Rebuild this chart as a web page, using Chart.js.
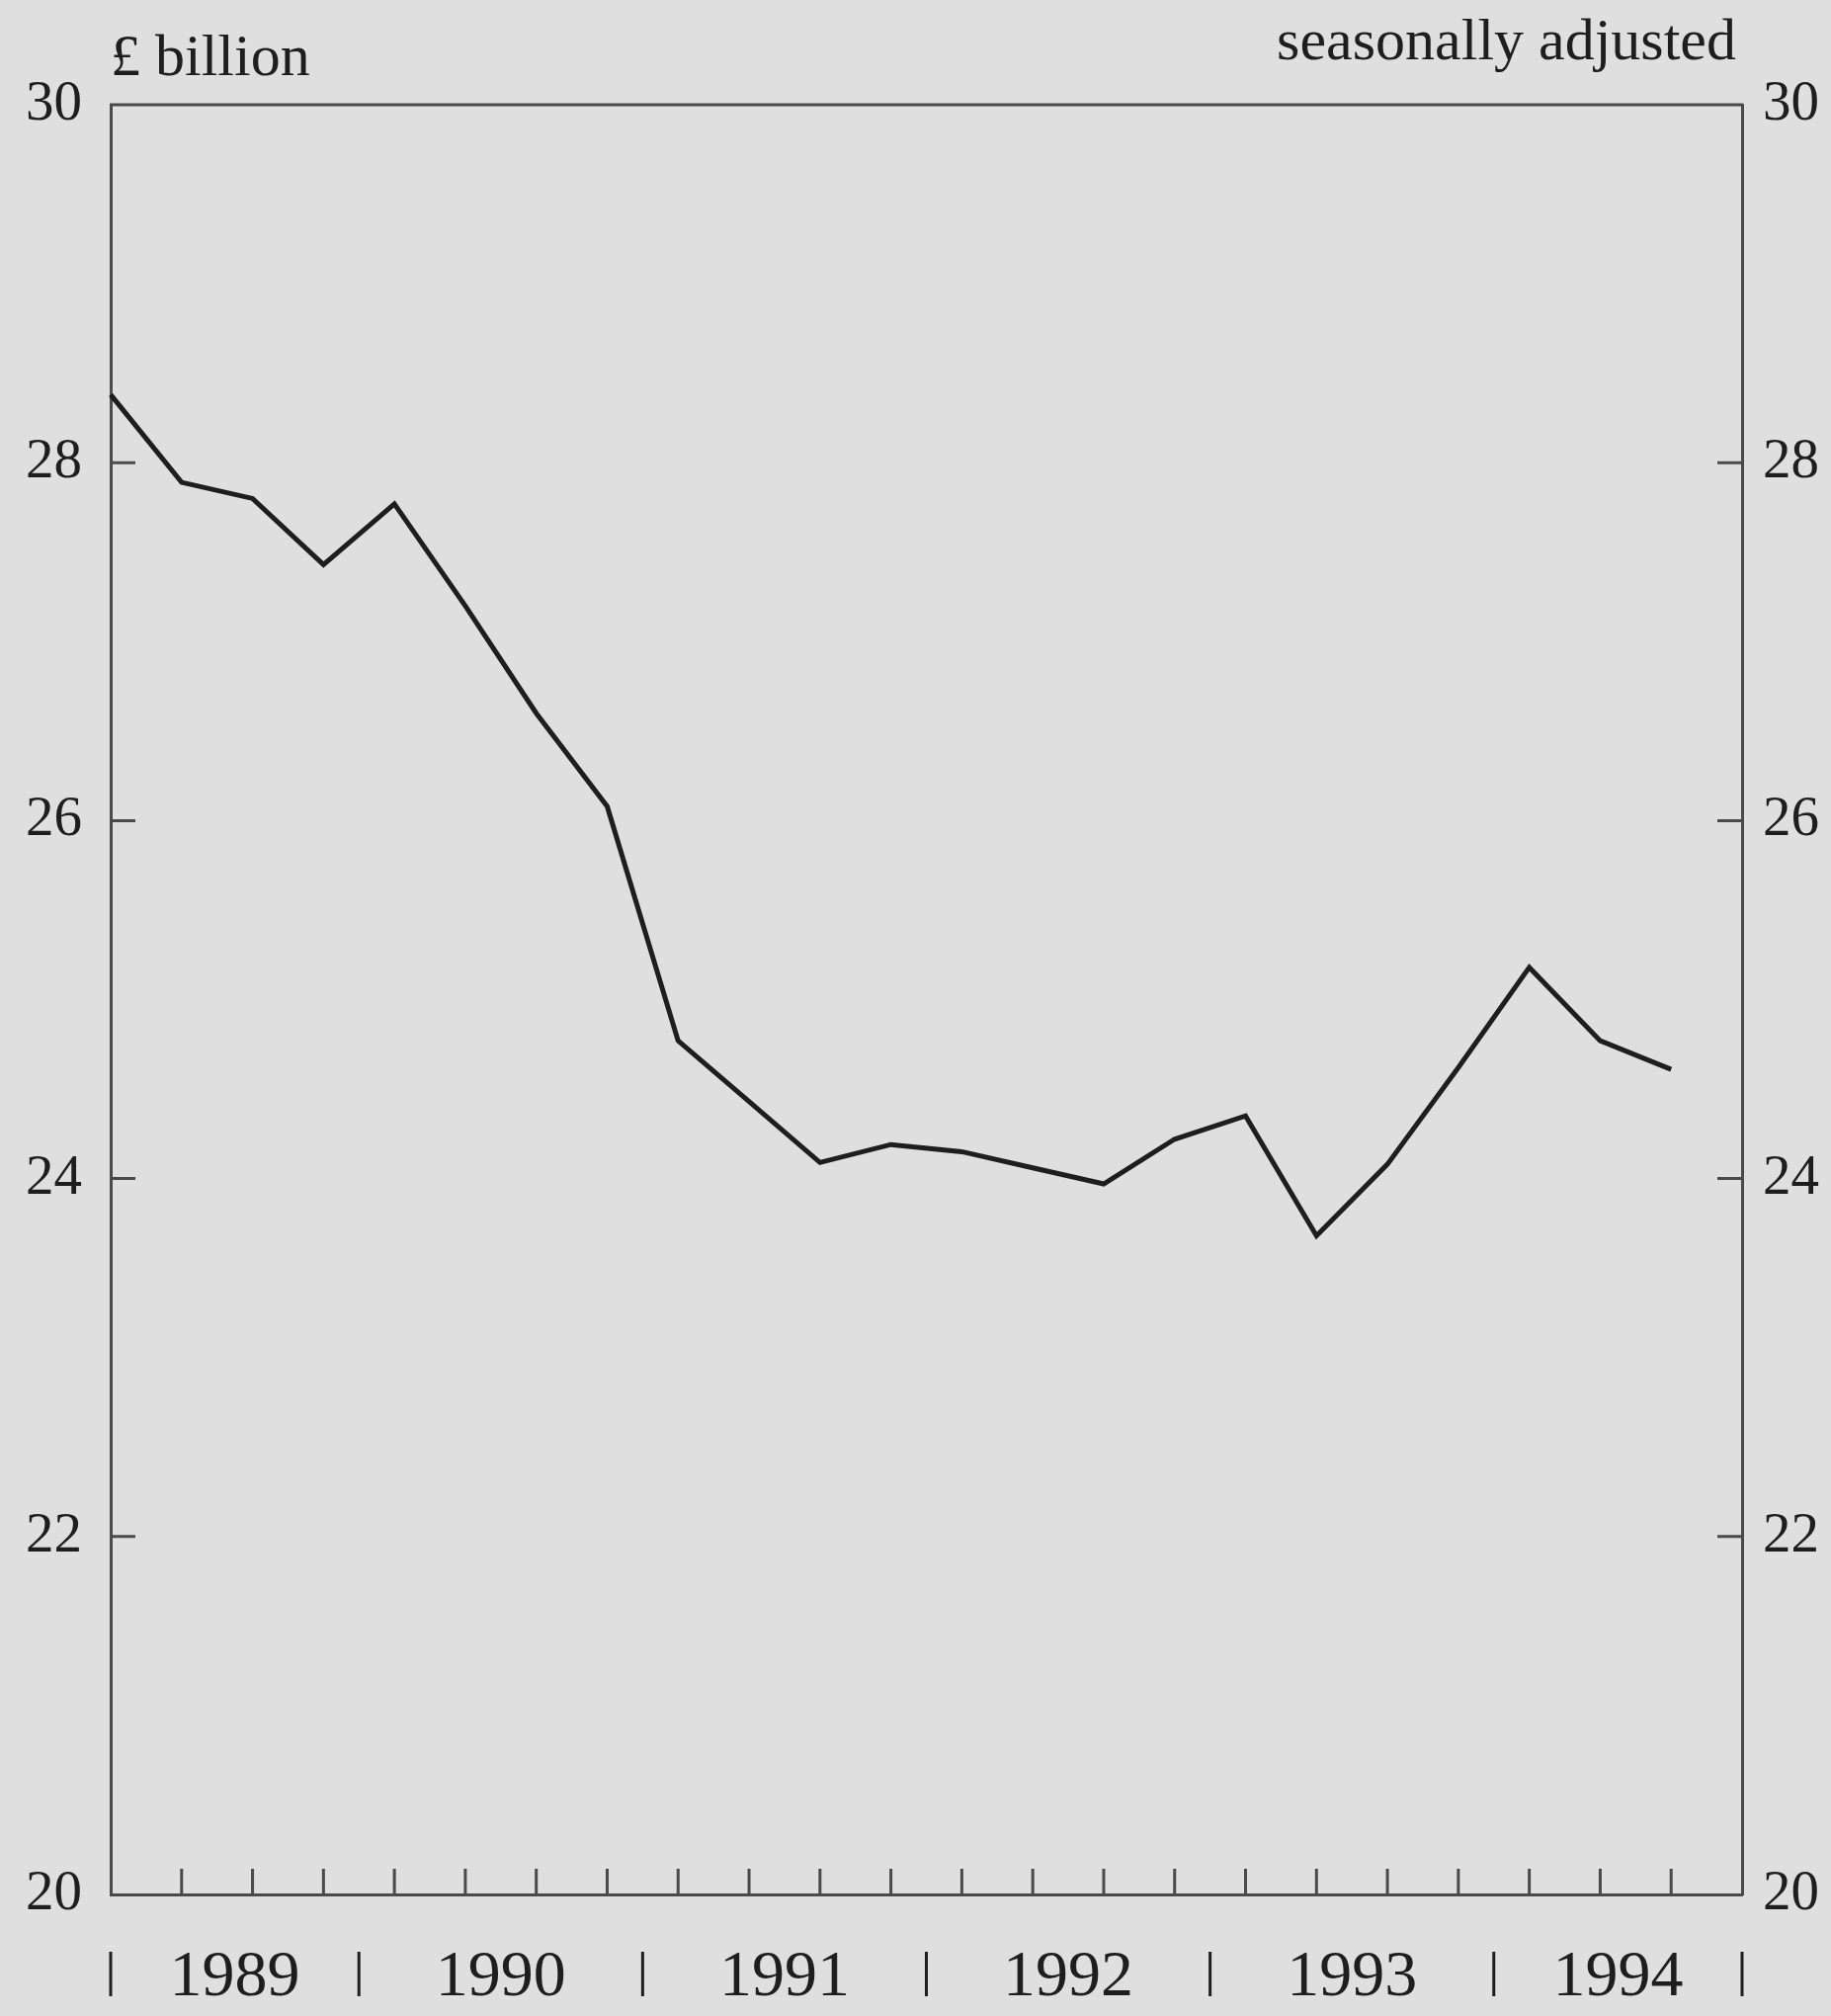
<!DOCTYPE html>
<html>
<head>
<meta charset="utf-8">
<script src="https://cdn.jsdelivr.net/npm/chart.js@4.4.0/dist/chart.umd.min.js"></script>
<style>
  html, body { margin: 0; padding: 0; background: #dfdfdf; }
  #wrap { width: 1853px; height: 2040px; }
</style>
</head>
<body>
<div id="wrap"><canvas id="chart" width="1853" height="2040"></canvas></div>
<script>
// quarterly data, 1989 Q1 - 1994 Q4 axis, data to 1994 Q3
const quarters = [
  "1989 Q1", "1989 Q2", "1989 Q3", "1989 Q4",
  "1990 Q1", "1990 Q2", "1990 Q3", "1990 Q4",
  "1991 Q1", "1991 Q2", "1991 Q3", "1991 Q4",
  "1992 Q1", "1992 Q2", "1992 Q3", "1992 Q4",
  "1993 Q1", "1993 Q2", "1993 Q3", "1993 Q4",
  "1994 Q1", "1994 Q2", "1994 Q3", "1994 Q4"
];
const spending = [
  28.38, 27.89, 27.80, 27.43,
  27.77, 27.20, 26.60, 26.08,
  24.77, 24.43, 24.09, 24.19,
  24.15, 24.06, 23.97, 24.22,
  24.35, 23.68, 24.08, 24.62,
  25.18, 24.77, 24.61
];
const yTicks = [20, 22, 24, 26, 28, 30];
const leftTitle = "£ billion";
const rightTitle = "seasonally adjusted";

const ink = "#1e1e1e";
const axisColor = "#4a4a4a";
const serif = "'Liberation Serif', 'DejaVu Serif', serif";

// year of each quarter, and the half-way points where the year changes
const years = quarters.map((q) => q.slice(0, 4));
const yearBreaks = [0];
for (let i = 1; i < years.length; i++) {
  if (years[i] !== years[i - 1]) yearBreaks.push(i - 0.5);
}
yearBreaks.push(quarters.length - 1);
const yearNames = [...new Set(years)];

const frame = {
  id: "frame",
  afterDraw(chart) {
    const ctx = chart.ctx;
    const area = chart.chartArea;
    const x = chart.scales.x;
    const y = chart.scales.y;
    ctx.save();
    ctx.strokeStyle = axisColor;
    ctx.lineWidth = 3;

    // top border
    ctx.beginPath();
    ctx.moveTo(area.left - 1, area.top);
    ctx.lineTo(area.right + 1, area.top);
    ctx.stroke();

    // quarter ticks pointing inwards
    ctx.beginPath();
    for (let i = 1; i < quarters.length - 1; i++) {
      const px = x.getPixelForValue(i);
      ctx.moveTo(px, area.bottom);
      ctx.lineTo(px, area.bottom - 26);
    }
    // value ticks on both sides
    yTicks.slice(1, -1).forEach((v) => {
      const py = y.getPixelForValue(v);
      ctx.moveTo(area.left, py);
      ctx.lineTo(area.left + 25, py);
      ctx.moveTo(area.right - 25, py);
      ctx.lineTo(area.right, py);
    });
    ctx.stroke();

    // year separators and labels below the axis
    ctx.strokeStyle = ink;
    ctx.beginPath();
    yearBreaks.forEach((b) => {
      const px = x.getPixelForValue(b);
      ctx.moveTo(px, area.bottom + 58);
      ctx.lineTo(px, area.bottom + 103);
    });
    ctx.stroke();

    ctx.fillStyle = ink;
    ctx.font = "66px " + serif;
    ctx.textAlign = "center";
    ctx.textBaseline = "alphabetic";
    yearNames.forEach((name, k) => {
      const mid = (yearBreaks[k] + yearBreaks[k + 1]) / 2;
      ctx.fillText(name, x.getPixelForValue(mid), area.bottom + 102);
    });

    // titles
    ctx.font = "60px " + serif;
    ctx.textAlign = "left";
    ctx.fillText(leftTitle, area.left, 76);
    ctx.textAlign = "right";
    ctx.fillText(rightTitle, area.right - 6, 60);
    ctx.restore();
  },
};

const tickStyle = {
  font: { family: serif, size: 57 },
  color: ink,
  stepSize: 2,
};

new Chart(document.getElementById("chart"), {
  type: "line",
  data: {
    labels: quarters,
    datasets: [
      {
        label: "£ billion",
        data: spending,
        borderColor: ink,
        borderWidth: 5,
        borderJoinStyle: "miter",
        pointRadius: 0,
        tension: 0,
        fill: false,
        yAxisID: "y",
      },
    ],
  },
  options: {
    responsive: false,
    animation: false,
    devicePixelRatio: 1,
    layout: { padding: { top: 106, left: 0, right: 0, bottom: 0 } },
    plugins: { legend: { display: false }, tooltip: { enabled: false } },
    scales: {
      x: {
        type: "category",
        offset: false,
        grid: { display: false },
        border: { display: true, color: axisColor, width: 3 },
        ticks: { display: false },
        afterFit: (s) => { s.height = 123; },
      },
      y: {
        position: "left",
        min: 20,
        max: 30,
        grid: { display: false },
        border: { display: true, color: axisColor, width: 3 },
        ticks: { ...tickStyle, padding: 21 },
        afterFit: (s) => { s.width = 112; },
      },
      y2: {
        position: "right",
        min: 20,
        max: 30,
        grid: { display: false },
        border: { display: true, color: axisColor, width: 3 },
        ticks: { ...tickStyle, padding: 13 },
        afterFit: (s) => { s.width = 90; },
      },
    },
  },
  plugins: [frame],
});
</script>
</body>
</html>
